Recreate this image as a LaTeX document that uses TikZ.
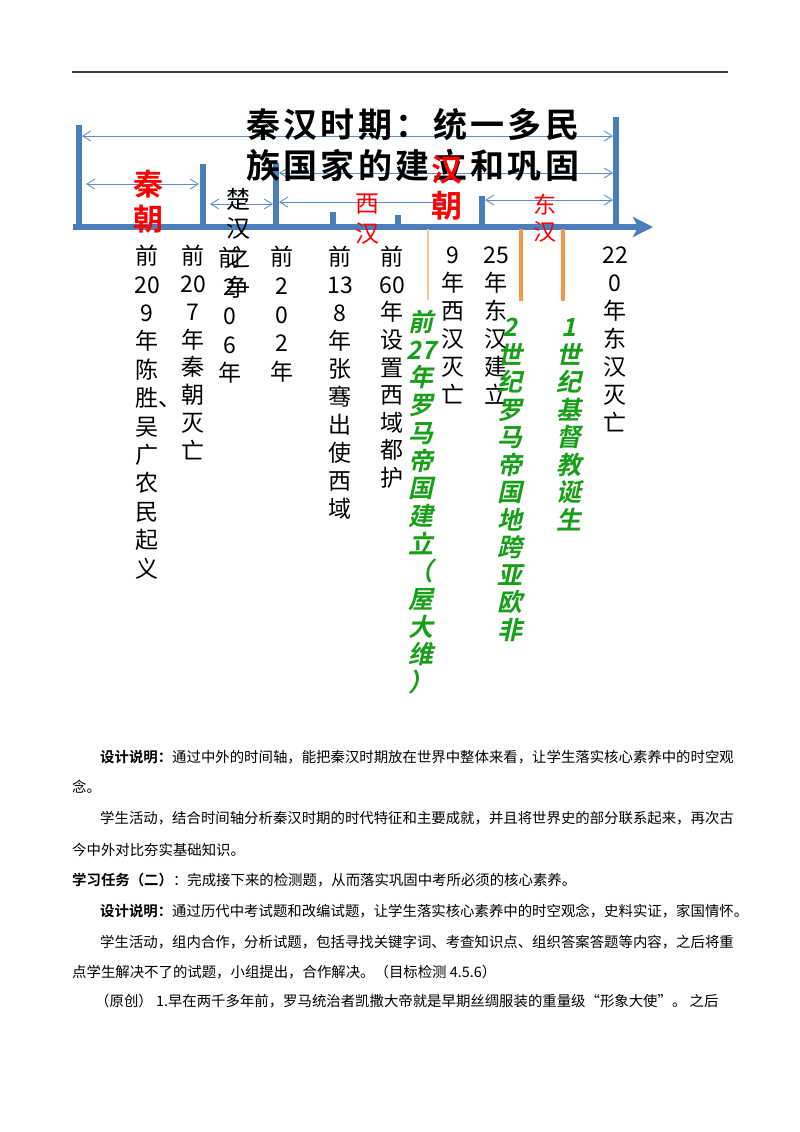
\documentclass[tikz,border=0pt]{standalone}
\usepackage{fontspec}
\setmainfont{Noto Sans CJK SC}[BoldFont={Noto Sans CJK SC Bold}]
\newfontfamily\titlefont{Noto Sans CJK SC Bold}[LetterSpace=10]
\newfontfamily\slantfont{Noto Sans CJK SC Bold}[FakeSlant=0.22]
\usetikzlibrary{arrows.meta}

\definecolor{axisblue}{RGB}{74,126,187}
\definecolor{spanblue}{RGB}{95,142,206}
\definecolor{eventorange}{RGB}{247,150,70}
\definecolor{palepeach}{RGB}{250,196,150}
\definecolor{worldgreen}{RGB}{24,158,24}
\definecolor{rulegray}{RGB}{60,60,60}

\tikzset{
  ch/.style={anchor=base, inner sep=0pt},
  blackcol/.style={ch, font=\fontsize{23}{23}\selectfont},
  greencol/.style={ch, text=worldgreen, font=\slantfont\fontsize{25}{25}\selectfont},
  tick/.style={axisblue, line width=6pt},
  span/.style={spanblue, line width=0.9pt, {Straight Barb[length=8pt,width=10pt]}-{Straight Barb[length=8pt,width=10pt]}},
  para/.style={anchor=base west, inner sep=0pt, font=\fontsize{14.4}{14.4}\selectfont},
}

% one column of stacked characters
\newcommand\vcol[6][]{%
  \foreach \vchar [count=\i] in {#6}
    \node[#1] (#2-\i) at (#3, {#4+#5*(\i-1)}) {\vchar};}

\begin{document}
\begin{tikzpicture}[x=1pt, y=-1pt]
			%%%%% START %%%%%
			\useasboundingbox (0,0) rectangle (800,1132);

			\draw[rulegray, line width=1.6pt] (72,72) -- (728,72);

			% ticks
			\draw[tick] (79,227) -- (79,125);
			\draw[tick] (203,227) -- (203,164);
			\draw[tick] (276,227) -- (276,163);
			\draw[tick] (333,227) -- (333,212);
			\draw[tick] (398,227) -- (398,215);
			\draw[tick] (482,227) -- (482,196);
			\draw[tick] (616,227) -- (616,117);

			\draw[axisblue, line width=6pt, -{Stealth[length=20pt,width=20pt,inset=5pt]}] (73,227) -- (653,227);

			% spans
			\coordinate (allL) at (82,136);   \coordinate (allR) at (613,136);
			\coordinate (hanL) at (279,173);  \coordinate (hanR) at (613,173);
			\coordinate (qinL) at (86,184);   \coordinate (qinR) at (199,184);
			\coordinate (chuL) at (210,204);  \coordinate (chuR) at (273,204);
			\coordinate (xiL) at (279,202);   \coordinate (xiR) at (445,202);
			\coordinate (dongL) at (485,200); \coordinate (dongR) at (613,200);
			\draw[span] (allL) -- (allR);
			\draw[span] (hanL) -- (hanR);
			\draw[span] (qinL) -- (qinR);
			\draw[span] (chuL) -- (chuR);
			\draw[span] (xiL) -- (xiR);
			\draw[span] (dongL) -- (dongR);

			% world events
			\draw[palepeach, line width=1.8pt] (428,229) -- (428,300);
			\draw[eventorange, line width=4.6pt] (521,229) -- (521,301);
			\draw[eventorange, line width=4.6pt] (563,229) -- (563,301);

			% title
			\node[anchor=base west, inner sep=0pt, font=\titlefont\fontsize{34}{34}\selectfont] (title1) at (246,137.5) {秦汉时期：统一多民};
			\node[anchor=base west, inner sep=0pt, font=\titlefont\fontsize{34}{34}\selectfont] (title2) at (246,178.5) {族国家的建立和巩固};

			% dynasties
			\vcol[ch, text=red, font=\bfseries\fontsize{30}{30}\selectfont]{qin}{148}{195.4}{35}{秦,朝}
			\vcol[ch, text=red, font=\bfseries\fontsize{31}{31}\selectfont]{han}{447}{181.8}{36}{汉,朝}
			\vcol[ch, text=red, font=\fontsize{24}{24}\selectfont]{xihan}{367}{212.1}{30}{西,汉}
			\vcol[ch, text=red, font=\fontsize{23}{23}\selectfont]{donghan}{545}{213.7}{27}{东,汉}
			\vcol[ch, font=\fontsize{24}{24}\selectfont]{chuhan}{238}{208.1}{29.3}{楚,汉,之,争}

			% dates and events
			\vcol[blackcol]{c1}{147}{264.7}{28.4}{前,20,9,年,陈,胜\rlap{、},吴,广,农,民,起,义}
			\vcol[blackcol]{c2}{193}{264.7}{27.8}{前,20,7,年,秦,朝,灭,亡}
			\vcol[blackcol]{c3}{230}{266.7}{28.8}{前,2,0,6,年}
			\vcol[blackcol]{c4}{282}{265.7}{28.7}{前,2,0,2,年}
			\vcol[blackcol]{c5}{340}{265.7}{28}{前,13,8,年,张,骞,出,使,西,域}
			\vcol[blackcol]{c6}{392}{265.7}{27.6}{前,60,年,设,置,西,域,都,护}
			\vcol[blackcol]{c7}{453}{263.7}{28}{9,年,西,汉,灭,亡}
			\vcol[blackcol]{c8}{496}{263.7}{28}{25,年,东,汉,建,立}
			\vcol[blackcol]{c9}{615}{263.7}{28}{22,0,年,东,汉,灭,亡}

			% rome
			\vcol[greencol]{g1}{421}{331.5}{27.7}{前,27,年,罗,马,帝,国,建,立,（,屋,大,维,）}
			\vcol[greencol]{g2}{510}{336.5}{27.5}{2,世,纪,罗,马,帝,国,地,跨,亚,欧,非}
			\vcol[greencol]{g3}{569}{336.5}{27.5}{1,世,纪,基,督,教,诞,生}

			% text below
			\node[para] (p1) at (100,762.5) {\textbf{设计说明：}通过中外的时间轴，能把秦汉时期放在世界中整体来看，让学生落实核心素养中的时空观};
			\node[para] (p2) at (72,792.5) {念。};
			\node[para] (p3) at (100,823.5) {学生活动，结合时间轴分析秦汉时期的时代特征和主要成就，并且将世界史的部分联系起来，再次古};
			\node[para] (p4) at (72,855.5) {今中外对比夯实基础知识。};
			\node[para] (p5) at (72,885.5) {\textbf{学习任务（二）}：完成接下来的检测题，从而落实巩固中考所必须的核心素养。};
			\node[para] (p6) at (100,916.5) {\textbf{设计说明：}通过历代中考试题和改编试题，让学生落实核心素养中的时空观念，史料实证，家国情怀。};
			\node[para] (p7) at (100,947.5) {学生活动，组内合作，分析试题，包括寻找关键字词、考查知识点、组织答案答题等内容，之后将重};
			\node[para] (p8) at (72,977.5) {点学生解决不了的试题，小组提出，合作解决。（目标检测 4.5.6）};
			\node[para] (p9) at (95,1006.5) {（原创） 1.早在两千多年前，罗马统治者凯撒大帝就是早期丝绸服装的重量级“形象大使”。 之后};

			%%%%% END %%%%%
\end{tikzpicture}
\end{document}
